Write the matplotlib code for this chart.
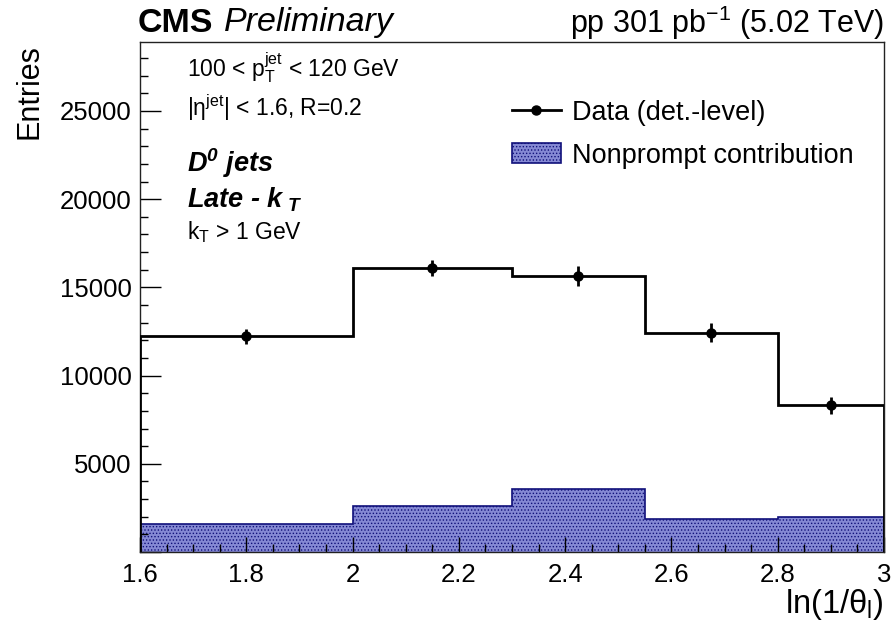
import numpy as np
import matplotlib
matplotlib.use("Agg")
import matplotlib.pyplot as plt
import matplotlib.ticker as ticker
from matplotlib.lines import Line2D
from matplotlib.patches import Patch

# ===================== 資料 =====================
bin_edges    = [1.6, 2.0, 2.3, 2.55, 2.8, 3.0]
data_counts  = [12230, 16100, 15650, 12430, 8320]
data_errors  = [420, 470, 550, 550, 470]
nonprompt    = [1590, 2610, 3590, 1850, 1980]
# ===============================================

plt.rcParams['font.family'] = ['Liberation Sans', 'DejaVu Sans']
plt.rcParams['mathtext.fontset'] = 'custom'
plt.rcParams['mathtext.rm'] = 'Liberation Sans'
plt.rcParams['mathtext.it'] = 'Liberation Sans:italic'
plt.rcParams['mathtext.bf'] = 'Liberation Sans:bold'
plt.rcParams['mathtext.bfit'] = 'Liberation Sans:italic:bold'
plt.rcParams['hatch.linewidth'] = 0.6

NP_FACE = '#8589d4'
NP_EDGE = '#10107a'

edges = np.array(bin_edges)
centers = 0.5 * (edges[:-1] + edges[1:])

fig = plt.figure(figsize=(8.94, 6.25), dpi=100)
ax = fig.add_axes([140/894, 73/625, 744/894, 510/625])

# 非即時貢獻（填色直方圖）
ax.stairs(nonprompt, edges, fill=True, facecolor=NP_FACE,
          edgecolor=NP_EDGE, hatch='.....', linewidth=1.2, zorder=1)
# 資料
ax.stairs(data_counts, edges, color='black', linewidth=2.0, zorder=3)
ax.errorbar(centers, data_counts, yerr=data_errors, fmt='o', color='black',
            markersize=6.5, elinewidth=2.0, capsize=0, zorder=4)

ax.set_xlim(1.6, 3.0)
ax.set_ylim(0, 28910)

ax.xaxis.set_major_locator(ticker.MultipleLocator(0.2))
ax.xaxis.set_minor_locator(ticker.MultipleLocator(0.05))
ax.yaxis.set_major_locator(ticker.MultipleLocator(5000))
ax.yaxis.set_minor_locator(ticker.MultipleLocator(1000))
ax.xaxis.set_major_formatter(ticker.FuncFormatter(lambda v, _: f"{v:g}"))
ax.yaxis.set_major_formatter(ticker.FuncFormatter(
    lambda v, _: "" if v == 0 else f"{int(v)}"))

ax.tick_params(axis='both', which='both', direction='in',
               top=False, right=False, labelsize=18.5, width=1.0)
ax.tick_params(axis='y', which='major', length=15, pad=6)
ax.tick_params(axis='y', which='minor', length=6)
ax.tick_params(axis='x', which='major', length=11, pad=8)
ax.tick_params(axis='x', which='minor', length=5.5)
for s in ax.spines.values():
    s.set_linewidth(1.0)
    s.set_color('#222222')

# 軸標題（ROOT 風格：靠右 / 靠上）
fig.text(30/894, 1 - 44/625, "Entries", rotation=90, ha='center', va='top',
         fontsize=22)
fig.text(884/894, 1 - 604/625, r"ln(1/θ$_{\mathrm{l}}$)", ha='right',
         va='center', fontsize=23.5)

# 上方標題
fig.text(138/894, 1 - 23/625, "CMS", fontsize=24.5, fontweight='bold',
         ha='left', va='center')
fig.text(224/894, 1 - 23/625, "Preliminary", fontsize=24.5, style='italic',
         ha='left', va='center')
fig.text(884/894, 1 - 23/625, r"pp 301 pb$^{\mathrm{-1}}$ (5.02 TeV)",
         fontsize=22, ha='right', va='center')

# 圖內文字
ax.text(187/894, 1 - 68/625, r"100 < $\mathrm{p}_{\mathrm{T}}^{\mathrm{jet}}$ < 120 GeV",
        transform=fig.transFigure, fontsize=16.5, ha='left', va='center')
ax.text(187/894, 1 - 108/625, r"|η$^{\mathrm{jet}}$| < 1.6, R=0.2",
        transform=fig.transFigure, fontsize=16.5, ha='left', va='center')
ax.text(187/894, 1 - 163/625, r"$\mathbfit{D}^{\mathbfit{0}}$ jets",
        transform=fig.transFigure, fontsize=19.5, fontweight='bold',
        style='italic', ha='left', va='center')
ax.text(187/894, 1 - 200/625, r"Late - $\mathbfit{k}_{\ \mathbfit{T}}$",
        transform=fig.transFigure, fontsize=19.5, fontweight='bold',
        style='italic', ha='left', va='center')
ax.text(187/894, 1 - 232/625, r"k$_{\mathrm{T}}$ > 1 GeV",
        transform=fig.transFigure, fontsize=16.5, ha='left', va='center')

# 圖例
handles = [
    Line2D([], [], color='black', marker='o', markersize=6.5, linewidth=2.0),
    Patch(facecolor=NP_FACE, edgecolor=NP_EDGE, hatch='.....', linewidth=1.2),
]
labels = ["Data (det.-level)", "Nonprompt contribution"]
leg = ax.legend(handles, labels, loc='upper left',
                bbox_to_anchor=(512/894, 1 - 100/625),
                bbox_transform=fig.transFigure,
                frameon=False, fontsize=19.5, handlelength=1.8,
                handleheight=0.75, handletextpad=0.4, labelspacing=0.62,
                borderaxespad=0, borderpad=0)

fig.savefig("out.png", dpi=100)
